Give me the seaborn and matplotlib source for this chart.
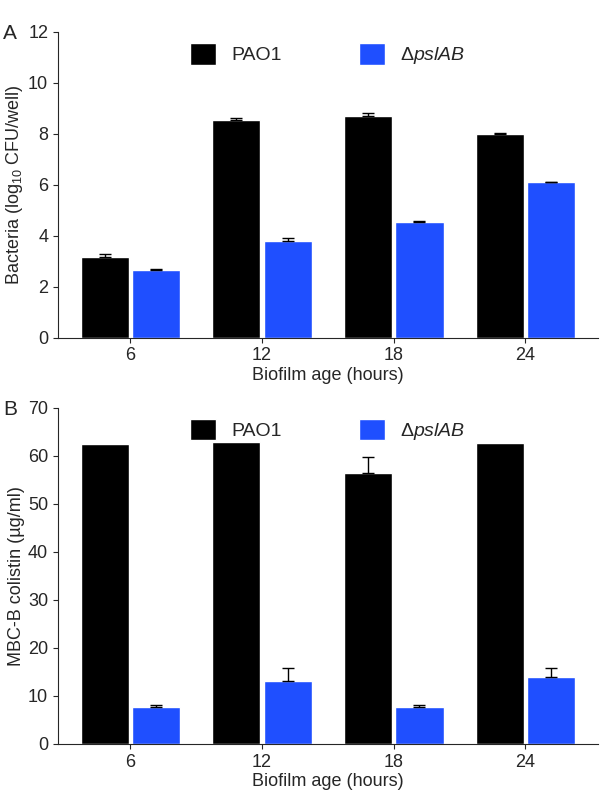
import matplotlib
matplotlib.use('Agg')
import matplotlib.pyplot as plt
import seaborn as sns
import pandas as pd

ages = ['6', '12', '18', '24']
strains = ['PAO1', r'$\Delta$$\it{pslAB}$']
a_pao1 = [3.15, 8.55, 8.7, 8.0]
a_pao1_err = [0.12, 0.08, 0.12, 0.03]
a_psl = [2.65, 3.8, 4.55, 6.1]
a_psl_err = [0.05, 0.1, 0.02, 0.02]
b_pao1 = [62.5, 63.0, 56.5, 62.7]
b_pao1_err = [0, 0, 3.3, 0]
b_psl = [7.8, 13.2, 7.8, 14.0]
b_psl_err = [0.3, 2.7, 0.3, 1.8]

sns.set_style('ticks')
plt.rcParams['font.family'] = ['Liberation Sans', 'DejaVu Sans']
plt.rcParams['mathtext.fontset'] = 'custom'
plt.rcParams['mathtext.rm'] = 'Liberation Sans'
plt.rcParams['mathtext.it'] = 'Liberation Sans:italic'

fig = plt.figure(figsize=(6.1, 8), dpi=100)
axA = fig.add_axes([0.095, 0.578, 0.885, 0.382])
axB = fig.add_axes([0.095, 0.07, 0.885, 0.42])
colors = ['black', '#1f4fff']


def panel(ax, v1, e1, v2, e2, ymax, step, ylabel, letter):
    df = pd.DataFrame({'age': ages * 2, 'strain': [strains[0]] * 4 + [strains[1]] * 4,
                       'val': v1 + v2})
    sns.barplot(data=df, x='age', y='val', hue='strain', palette=colors, ax=ax,
                width=0.78, gap=0.06, errorbar=None, saturation=1)
    for p, v, e in zip(ax.patches[:8], v1 + v2, e1 + e2):
        if e <= 0:
            continue
        x = p.get_x() + p.get_width() / 2
        ax.errorbar(x, v, yerr=[[0], [e]], color='black', capsize=4, lw=1)
    ax.set_ylim(0, ymax)
    ax.set_yticks(range(0, ymax + 1, step))
    ax.set_xlim(-0.55, 3.55)
    ax.set_xlabel('Biofilm age (hours)', fontsize=13, labelpad=2)
    ax.set_ylabel(ylabel, fontsize=13, labelpad=2)
    ax.tick_params(labelsize=13)
    ax.legend(loc='upper center', ncol=2, frameon=False, fontsize=14,
              handlelength=1.3, handleheight=1.3, columnspacing=4, bbox_to_anchor=(0.5, 1.02))
    sns.despine(ax=ax)
    fig.text(0.005, ax.get_position().y1 + 0.01, letter, fontsize=15, va='top')


panel(axA, a_pao1, a_pao1_err, a_psl, a_psl_err, 12, 2,
      r'Bacteria (log$_{10}$ CFU/well)', 'A')
panel(axB, b_pao1, b_pao1_err, b_psl, b_psl_err, 70, 10,
      'MBC-B colistin (µg/ml)', 'B')

fig.savefig('out.png', dpi=100)
